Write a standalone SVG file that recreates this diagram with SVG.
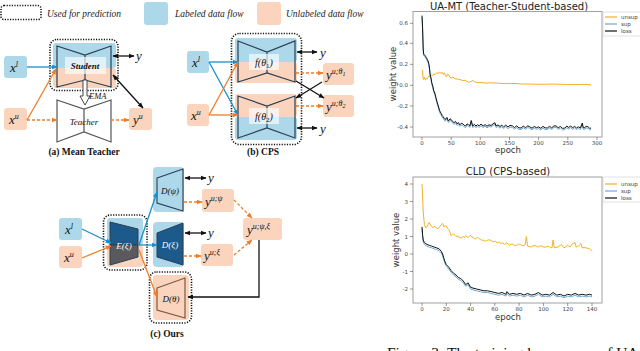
<svg xmlns="http://www.w3.org/2000/svg" width="640" height="351" viewBox="0 0 640 351">
<style>
.bl{fill:#acd8ea}
.or{fill:#fad4bc}
.dot{fill:none;stroke:#111;stroke-width:1.6;stroke-dasharray:1.2 1.4}
.m{font-family:"Liberation Serif",serif;font-style:italic;fill:#111}
.leg{font-family:"Liberation Serif",serif;font-style:italic;font-size:9.5px;fill:#222}
.cap{font-family:"Liberation Serif",serif;font-weight:bold;font-size:9.5px;fill:#111;text-anchor:middle}
.bow{fill:none;stroke:#2c3e50;stroke-width:1.2}
.lab{fill:#fff;opacity:0.65}
.kb{stroke:#111;stroke-width:1.3;fill:none}
.ab{stroke:#1b8fc8;stroke-width:1.3;fill:none}
.ao{stroke:#f07c28;stroke-width:1.3;fill:none}
.ad{stroke:#f07c28;stroke-width:1.3;fill:none;stroke-dasharray:3 2}
.ax{fill:none;stroke:#a0a0a0;stroke-width:1}
.tk{font-family:"DejaVu Sans",sans-serif;font-size:5.5px;fill:#444}
.tl{font-family:"DejaVu Sans",sans-serif;font-size:8.5px;fill:#333}
.tt{font-family:"DejaVu Sans",sans-serif;font-size:10px;fill:#222;text-anchor:middle}
.tm{stroke:#555;stroke-width:0.6}
</style>
<defs>
<marker id="mk" viewBox="0 0 10 10" refX="9" refY="5" markerWidth="6" markerHeight="6" markerUnits="userSpaceOnUse" orient="auto-start-reverse"><path d="M0,1 L10,5 L0,9 z" fill="#111"/></marker>
<marker id="mb" viewBox="0 0 10 10" refX="9" refY="5" markerWidth="6" markerHeight="6" markerUnits="userSpaceOnUse" orient="auto"><path d="M0,1 L10,5 L0,9 z" fill="#1b8fc8"/></marker>
<marker id="mo" viewBox="0 0 10 10" refX="9" refY="5" markerWidth="6" markerHeight="6" markerUnits="userSpaceOnUse" orient="auto"><path d="M0,1 L10,5 L0,9 z" fill="#f07c28"/></marker>
<polyline id="loss1" points="422,15.6 422.6,28.1 423.2,48.9 423.7,54.1 424.6,55 425.5,56.2 426.3,57.5 427.2,59.3 428.1,61 429,64.5 429.6,69 430.2,74.9 431,78 431.9,83.2 432.8,86 433.7,90.5 434.8,93 436,97.8 436.8,101 437.7,104 438.6,107 439.5,110.3 440.3,112 441.2,113.4 442.1,115.5 443,116.5 444.1,118.3 445.3,119.6 446.2,118 447.1,117.5 448,120.5 448.8,120.7 450,118.8 451.2,119.6 452.6,121.5 454.1,122.7 455.5,121.4 457,123.8 458.4,122.6 459.9,124.8 461.3,123.2 462.8,123.8 464.2,125.3 465.7,125.9 467.1,123.9 468.6,124.8 470,125.6 471.2,120.5 472.7,125.9 474.5,124.3 475.9,126.1 477.4,124.8 479.2,125.7 481,124.2 483.2,125.9 485.1,124.6 487,126.3 489,124.8 491,125.5 493,123.9 494.9,122.7 496,125.9 498,124.9 500,126.5 501.8,125.2 503.6,126.9 505.7,125.1 508,127 510,125.4 512.4,125.9 514.5,127.5 516.7,126 518.9,127.8 521.1,128 523.3,126.2 525.6,127.6 527.8,125.8 529.9,126.9 532,128.2 534.3,126.5 536.4,127.7 538.6,126.9 540.8,128.3 543,126.4 545.1,127.9 547.3,128 549.5,126.3 551.7,127.9 553.9,125.9 556.1,125.9 558.2,127.8 560.4,126.4 562.6,128.4 564.8,128 566.9,126.1 568.7,127.5 570.7,125.9 572.6,127.9 574.5,126.3 576.5,128 578.4,126.8 580.4,127.9 582.3,123 583.2,127.5 584.1,128 586.2,126.3 588.2,126.9 589.7,128.3 591.1,128"/>
<polyline id="loss2" points="422,226.9 422.6,234.8 423.2,240 424.4,242.6 426.9,244.4 429.3,245.3 431.7,246.1 434.1,247 436.6,247.9 439,248.8 441.4,251.4 442.6,254 443.9,258.4 445.1,261.9 446.3,264.5 448.7,267.1 451.1,270.6 453.6,273.3 456,275 458.4,277.6 460.8,278.5 463.3,281.1 465.7,284.6 468.1,282.9 470.6,287.3 473,288.1 476.6,289 480.3,289.9 483.9,290.8 487.6,290.8 491.2,291.6 494.8,292.5 498.5,293.4 502.1,292.5 505.8,294.3 507,291.6 509.4,294.3 513.1,293.4 516.7,294.3 520.3,293.4 524,295.1 527.6,293.4 531.3,295.1 534.9,294.3 538.5,292.5 542.2,295.1 545.8,294.3 549.5,295.1 553.1,292.5 556.8,295.1 560.4,294.3 564,296 567.7,294.3 571.3,295.1 575,293.4 578.6,295.1 582.2,294.3 585.9,295.1 589.5,294.3 592,295.1"/>
</defs>
<rect width="640" height="351" fill="#fff"/>

<g id="legend">
<rect class="dot" x="1" y="5.5" width="40" height="14" rx="3"/>
<text class="leg" x="47" y="17">Used for prediction</text>
<rect class="bl" x="144" y="2" width="24" height="23" rx="3"/>
<text class="leg" x="175" y="17">Labeled data flow</text>
<rect class="or" x="257" y="2" width="24" height="23" rx="3"/>
<text class="leg" x="286" y="17">Unlabeled data flow</text>
</g>

<!-- (a) Mean Teacher -->
<g id="a-xl"><rect class="bl" x="4" y="56" width="23" height="22" rx="3"/><text class="m" x="10" y="72" font-size="13">x<tspan dy="-5" font-size="8">l</tspan></text></g>
<g id="a-xu"><rect class="or" x="4" y="108" width="23" height="22" rx="3"/><text class="m" x="9" y="124" font-size="13">x<tspan dy="-5" font-size="8">u</tspan></text></g>
<g id="a-student">
<rect class="bl" x="53" y="43" width="63" height="25" rx="3"/>
<rect class="or" x="53" y="68" width="63" height="20" rx="3"/>
<path class="bow" d="M57,46 L85,55 L111,46 L111,87 L85,80 L57,87 Z M85,55 L85,80"/>
<rect class="lab" x="65" y="57" width="41" height="17"/>
<text class="m" x="85" y="69" font-size="9" font-weight="bold" text-anchor="middle">Student</text>
<rect class="dot" x="50" y="39.5" width="68" height="51" rx="7"/>
</g>
<g id="a-teacher">
<path d="M57,100 L84,109 L111,100 L111,142 L84,132 L57,142 Z M84,109 L84,132" fill="#fff" stroke="#555" stroke-width="1.2"/>
<text class="m" x="84" y="125" font-size="9" text-anchor="middle">Teacher</text>
</g>
<g id="a-y"><text class="m" x="136" y="60" font-size="13">y</text></g>
<g id="a-yu"><rect class="or" x="129" y="108" width="23" height="22" rx="3"/><text class="m" x="133" y="124" font-size="13">y<tspan dy="-5" font-size="8">u</tspan></text></g>
<text class="cap" x="84" y="155">(a) Mean Teacher</text>

<!-- (b) CPS -->
<g id="b-xl"><rect class="bl" x="187" y="51" width="22" height="22" rx="3"/><text class="m" x="192" y="67" font-size="13">x<tspan dy="-5" font-size="8">l</tspan></text></g>
<g id="b-xu"><rect class="or" x="187" y="104" width="22" height="22" rx="3"/><text class="m" x="191" y="120" font-size="13">x<tspan dy="-5" font-size="8">u</tspan></text></g>
<g id="b-f1">
<rect class="bl" x="235" y="38" width="62" height="24" rx="3"/>
<rect class="or" x="235" y="62" width="62" height="21" rx="3"/>
<path class="bow" d="M238,41 L267,52 L295,41 L295,82 L267,73 L238,82 Z M267,52 L267,73"/>
<rect class="lab" x="249" y="54" width="30" height="16"/>
<text class="m" x="264" y="66" font-size="10" text-anchor="middle">f(θ<tspan font-style="normal" font-size="7" dy="2">1</tspan><tspan dy="-2">)</tspan></text>
</g>
<g id="b-f2">
<rect class="or" x="235" y="94" width="62" height="23" rx="3"/>
<rect class="bl" x="235" y="117" width="62" height="23" rx="3"/>
<path class="bow" d="M238,96 L267,106 L295,96 L295,138 L267,128 L238,138 Z M267,106 L267,128"/>
<rect class="lab" x="249" y="108" width="30" height="16"/>
<text class="m" x="264" y="120" font-size="10" text-anchor="middle">f(θ<tspan font-style="normal" font-size="7" dy="2">2</tspan><tspan dy="-2">)</tspan></text>
</g>
<rect id="b-pred" class="dot" x="231.5" y="33.5" width="70" height="111" rx="8"/>
<g id="b-y1"><text class="m" x="320" y="57" font-size="13">y</text></g>
<g id="b-y2"><text class="m" x="320" y="133" font-size="13">y</text></g>
<g id="b-yu1"><rect class="or" x="323" y="63" width="31" height="22" rx="3"/><text class="m" x="326" y="79" font-size="13">y<tspan dy="-5" font-size="8">u;θ</tspan><tspan dy="2" font-size="6">1</tspan></text></g>
<g id="b-yu2"><rect class="or" x="323" y="95" width="31" height="22" rx="3"/><text class="m" x="326" y="111" font-size="13">y<tspan dy="-5" font-size="8">u;θ</tspan><tspan dy="2" font-size="6">2</tspan></text></g>
<text class="cap" x="263" y="155">(b) CPS</text>

<!-- (c) Ours -->
<g id="c-xl"><rect class="bl" x="59" y="218" width="23" height="22" rx="3"/><text class="m" x="65" y="234" font-size="13">x<tspan dy="-5" font-size="8">l</tspan></text></g>
<g id="c-xu"><rect class="or" x="59" y="246" width="23" height="22" rx="3"/><text class="m" x="64" y="262" font-size="13">x<tspan dy="-5" font-size="8">u</tspan></text></g>
<g id="c-E">
<rect class="bl" x="107" y="218" width="36" height="27" rx="3"/>
<rect class="or" x="107" y="245" width="36" height="22" rx="3"/>
<path d="M110,222 L138,229 L138,245 L110,245 Z" fill="#1b5a8a" stroke="#2c3e50" stroke-width="1"/>
<path d="M110,245 L138,245 L138,257 L110,265 Z" fill="#5a5a5e" stroke="#2c3e50" stroke-width="1"/>
<text class="m" x="124" y="249" font-size="9" style="fill:#fff" text-anchor="middle">E(ξ)</text>
<rect class="dot" x="103.5" y="215" width="43.5" height="55" rx="7"/>
</g>
<g id="c-Dpsi">
<rect class="bl" x="153" y="167" width="31" height="45" rx="4"/>
<path d="M157,178 L183,169 L183,211 L157,203 Z" fill="#acd8ea" stroke="#2c3e50" stroke-width="1.1"/>
<text class="m" x="170" y="194" font-size="9" text-anchor="middle">D(ψ)</text>
</g>
<g id="c-Dxi">
<rect class="bl" x="153" y="222" width="31" height="45" rx="4"/>
<path d="M157,233 L183,223 L183,265 L157,257 Z" fill="#1b5a8a" stroke="#2c3e50" stroke-width="1"/>
<text class="m" x="170" y="248" font-size="9" style="fill:#fff" text-anchor="middle">D(ξ)</text>
</g>
<g id="c-Dtheta">
<rect class="or" x="153" y="275" width="36" height="45" rx="4"/>
<path d="M157,288 L185,278 L185,318 L157,310 Z" fill="#fad4bc" stroke="#7a5a45" stroke-width="1.2"/>
<text class="m" x="171" y="302" font-size="9" text-anchor="middle">D(θ)</text>
<rect class="dot" x="149.5" y="272" width="42" height="51" rx="7"/>
</g>
<g id="c-y1"><text class="m" x="208" y="182" font-size="13">y</text></g>
<g id="c-y2"><text class="m" x="208" y="237" font-size="13">y</text></g>
<g id="c-yupsi"><rect class="or" x="202" y="189" width="32" height="23" rx="3"/><text class="m" x="205" y="206" font-size="13">y<tspan dy="-5" font-size="8">u;ψ</tspan></text></g>
<g id="c-yuxi"><rect class="or" x="201" y="244" width="32" height="22" rx="3"/><text class="m" x="204" y="260" font-size="13">y<tspan dy="-5" font-size="8">u;ξ</tspan></text></g>
<g id="c-yupx"><rect class="or" x="243" y="218" width="39" height="22" rx="3"/><text class="m" x="247" y="234" font-size="13">y<tspan dy="-5" font-size="8">u;ψ,ξ</tspan></text></g>
<text class="cap" x="167" y="337">(c) Ours</text>

<g id="connectors">
<line class="ab" x1="27" y1="67" x2="57" y2="67" marker-end="url(#mb)"/>
<line class="ao" x1="27" y1="120" x2="56" y2="69" marker-end="url(#mo)"/>
<line class="ad" x1="27" y1="120" x2="57" y2="120" marker-end="url(#mo)"/>
<line class="ad" x1="111" y1="120" x2="129" y2="120" marker-end="url(#mo)"/>
<line class="kb" x1="113" y1="56" x2="134" y2="56" marker-start="url(#mk)" marker-end="url(#mk)"/>
<line class="kb" x1="113" y1="75" x2="143" y2="108" marker-start="url(#mk)" marker-end="url(#mk)"/>
<path d="M83,80 L87,80 L87,96 L90,96 L85,105 L80,96 L83,96 Z" fill="#fff" stroke="#333" stroke-width="0.9"/>
<text class="m" x="89" y="99" font-size="8.5">EMA</text>
<line class="ab" x1="209" y1="62" x2="238" y2="62" marker-end="url(#mb)"/>
<line class="ab" x1="209" y1="62" x2="238" y2="115" marker-end="url(#mb)"/>
<line class="ao" x1="209" y1="115" x2="238" y2="62" marker-end="url(#mo)"/>
<line class="ao" x1="209" y1="115" x2="238" y2="115" marker-end="url(#mo)"/>
<line class="kb" x1="297" y1="52" x2="317" y2="52" marker-start="url(#mk)" marker-end="url(#mk)"/>
<line class="kb" x1="297" y1="128" x2="317" y2="128" marker-start="url(#mk)" marker-end="url(#mk)"/>
<line class="ad" x1="296" y1="73" x2="323" y2="73" marker-end="url(#mo)"/>
<line class="ad" x1="296" y1="106" x2="323" y2="106" marker-end="url(#mo)"/>
<line class="kb" x1="296" y1="81" x2="324" y2="98" marker-end="url(#mk)"/>
<line class="kb" x1="322" y1="82" x2="296" y2="98" marker-end="url(#mk)"/>
<line class="ab" x1="82" y1="229" x2="111" y2="243" marker-end="url(#mb)"/>
<line class="ao" x1="82" y1="258" x2="111" y2="246" marker-end="url(#mo)"/>
<line class="ab" x1="139" y1="245" x2="157" y2="192" marker-end="url(#mb)"/>
<line class="ab" x1="139" y1="245" x2="157" y2="245" marker-end="url(#mb)"/>
<line class="ao" x1="139" y1="250" x2="157" y2="297" marker-end="url(#mo)"/>
<line class="kb" x1="185" y1="178" x2="206" y2="178" marker-start="url(#mk)" marker-end="url(#mk)"/>
<line class="kb" x1="185" y1="233" x2="206" y2="233" marker-start="url(#mk)" marker-end="url(#mk)"/>
<line class="ad" x1="184" y1="202" x2="202" y2="202" marker-end="url(#mo)"/>
<line class="ad" x1="184" y1="256" x2="201" y2="256" marker-end="url(#mo)"/>
<line class="ad" x1="234" y1="200" x2="252" y2="218" marker-end="url(#mo)"/>
<line class="ad" x1="234" y1="255" x2="252" y2="240" marker-end="url(#mo)"/>
<polyline class="kb" points="259,240 259,297 188,297" marker-end="url(#mk)"/>
</g>

<g id="chart1">
<text class="tt" x="509" y="10">UA-MT (Teacher-Student-based)</text>
<rect class="ax" x="413" y="11.5" width="189" height="125.5"/>
<g class="tm">
<line x1="410" y1="23.3" x2="413" y2="23.3"/><line x1="410" y1="43.3" x2="413" y2="43.3"/><line x1="410" y1="64.3" x2="413" y2="64.3"/><line x1="410" y1="85.3" x2="413" y2="85.3"/><line x1="410" y1="106" x2="413" y2="106"/><line x1="410" y1="127" x2="413" y2="127"/>
<line x1="422" y1="137" x2="422" y2="140"/><line x1="451.2" y1="137" x2="451.2" y2="140"/><line x1="480.3" y1="137" x2="480.3" y2="140"/><line x1="509.5" y1="137" x2="509.5" y2="140"/><line x1="538.6" y1="137" x2="538.6" y2="140"/><line x1="567.8" y1="137" x2="567.8" y2="140"/><line x1="597" y1="137" x2="597" y2="140"/>
</g>
<g class="tk" text-anchor="end">
<text x="408" y="25.3">0.6</text><text x="408" y="45.3">0.4</text><text x="408" y="66.3">0.2</text><text x="408" y="87.3">0.0</text><text x="408" y="108">-0.2</text><text x="408" y="129">-0.4</text>
</g>
<g class="tk" text-anchor="middle">
<text x="422" y="145">0</text><text x="451.2" y="145">50</text><text x="480.3" y="145">100</text><text x="509.5" y="145">150</text><text x="538.6" y="145">200</text><text x="567.8" y="145">250</text><text x="597" y="145">300</text>
</g>
<text class="tl" x="508" y="153" text-anchor="middle">epoch</text>
<text class="tl" transform="translate(396,74) rotate(-90)" text-anchor="middle">weight value</text>
<polyline fill="none" stroke="#f5b027" stroke-width="1" points="422,69.7 422.6,71 423,78 423.6,79.5 424.3,77 425,79 425.5,80.1 426.3,78.5 427.2,79.1 428,77 429,75.9 430,76.8 431.3,74.9 432.5,75.5 433.7,73.9 435,74.5 436.6,72.8 438,73.4 439.5,72.3 441,73.2 442.4,72.5 443.3,74.5 444.2,72.8 445.3,75 446.5,77 447.5,74 448.8,74.9 450,77.5 451.2,78 453,77.2 455,78.8 457,79 460,79.5 462.8,80.6 465,80.2 468.6,82.2 471,81.5 473.3,80.4 475,82 477.4,82.7 481,82.4 486.1,83.2 490,82.8 497.8,83.2 503,83.5 509.5,83.7 515,83.4 521,84 527,84 535,84.2 544.4,84.3 552,84.1 561.9,84.3 570,84.6 579.4,84.5 585,84.4 591.1,84.8"/>
<use href="#loss1" fill="none" stroke="#6fa8d0" stroke-width="1" transform="translate(0,1.6)"/>
<use href="#loss1" fill="none" stroke="#111" stroke-width="1"/>
<rect x="603" y="12" width="39" height="24" fill="#fff" stroke="#ccc" stroke-width="0.6"/>
<line x1="605" y1="17" x2="617" y2="17" stroke="#f5b027" stroke-width="1.2"/>
<line x1="605" y1="24" x2="617" y2="24" stroke="#6fa8d0" stroke-width="1.2"/>
<line x1="605" y1="31" x2="617" y2="31" stroke="#111" stroke-width="1.2"/>
<text class="tk" x="621" y="19">unsup</text><text class="tk" x="621" y="26">sup</text><text class="tk" x="621" y="33">loss</text>
</g>

<g id="chart2">
<text class="tt" x="508" y="175">CLD (CPS-based)</text>
<rect class="ax" x="413" y="177" width="189" height="126"/>
<g class="tm">
<line x1="410" y1="184" x2="413" y2="184"/><line x1="410" y1="201.5" x2="413" y2="201.5"/><line x1="410" y1="219" x2="413" y2="219"/><line x1="410" y1="236.5" x2="413" y2="236.5"/><line x1="410" y1="254" x2="413" y2="254"/><line x1="410" y1="271.5" x2="413" y2="271.5"/><line x1="410" y1="289" x2="413" y2="289"/>
<line x1="422" y1="303" x2="422" y2="306"/><line x1="446.3" y1="303" x2="446.3" y2="306"/><line x1="470.6" y1="303" x2="470.6" y2="306"/><line x1="494.8" y1="303" x2="494.8" y2="306"/><line x1="519.1" y1="303" x2="519.1" y2="306"/><line x1="543.4" y1="303" x2="543.4" y2="306"/><line x1="567.7" y1="303" x2="567.7" y2="306"/><line x1="592" y1="303" x2="592" y2="306"/>
</g>
<g class="tk" text-anchor="end">
<text x="408" y="186">4</text><text x="408" y="203.5">3</text><text x="408" y="221">2</text><text x="408" y="238.5">1</text><text x="408" y="256">0</text><text x="408" y="273.5">-1</text><text x="408" y="291">-2</text>
</g>
<g class="tk" text-anchor="middle">
<text x="422" y="311">0</text><text x="446.3" y="311">20</text><text x="470.6" y="311">40</text><text x="494.8" y="311">60</text><text x="519.1" y="311">80</text><text x="543.4" y="311">100</text><text x="567.7" y="311">120</text><text x="592" y="311">140</text>
</g>
<text class="tl" x="508" y="320" text-anchor="middle">epoch</text>
<text class="tl" transform="translate(399,240) rotate(-90)" text-anchor="middle">weight value</text>
<polyline fill="none" stroke="#f5b027" stroke-width="1" points="422,184 422.6,196.3 423.2,212 424.4,224.3 425.6,227.8 426.9,226.9 428.1,224.3 429.3,222.5 430.5,225.1 431.7,226.5 432.9,227.8 434.1,226.3 435.4,226.9 436.6,228.2 437.8,228.6 439,227.5 440.2,226 441.4,224.5 442.6,223.4 443.9,226.9 445.1,225.8 446.3,226 447.5,228.2 448.7,229.5 449.9,232 451.1,235.6 452.4,234.5 453.6,233.9 454.8,235.2 456,236.5 457.2,235.8 458.4,237.4 459.6,236.6 460.8,238.3 462,237.2 463.3,236.5 464.5,237.5 465.7,235.6 466.9,236.8 468.1,237.4 469.3,236.2 470.6,235.6 471.8,236.9 473,237.4 474.2,238.5 475.4,239.1 476.6,237.9 477.8,237.4 479,238.6 480.3,239.1 481.5,240.3 482.7,240 484.5,241 486.3,240.9 488.1,239.9 490,240 491.8,241.2 493.6,241.8 495.4,241.4 497.3,242.6 499.1,242.1 500.9,243.5 502.7,243 504.6,244.4 505.8,243.7 507,242.6 508.2,244.1 509.4,245.3 511.2,244.1 513.1,244.4 514.9,245.6 516.7,245.3 518.5,244.2 520.3,244.4 522.1,245.7 524,245.3 525.2,244.5 526.4,236.5 527.6,246.1 529.4,246.5 531.3,247 533.1,245.9 534.9,245.3 536.7,246.5 538.5,247 540.3,245.8 542.2,246.1 544,247.2 545.8,247 547.6,246.2 549.5,247 550.7,247.6 551.9,247.9 553.1,240 554.3,247.9 556.1,247.4 558,247 559.8,245.6 561.6,244.4 562.8,246.5 564,247.9 565.8,246.7 567.7,245.3 568.9,246.2 570.1,247 571.3,245.5 572.5,243.5 573.8,243.2 575,242.6 576.2,247 577.4,246.6 578.6,246.1 579.8,244.7 581,243.5 582.2,247.9 584,247.5 585.9,247.9 587.7,248.2 589.5,248.8 590.7,249.8 592,251.4"/>
<use href="#loss2" fill="none" stroke="#6fa8d0" stroke-width="1" transform="translate(0,1.8)"/>
<use href="#loss2" fill="none" stroke="#111" stroke-width="1"/>
<rect x="603" y="177" width="39" height="25" fill="#fff" stroke="#ccc" stroke-width="0.6"/>
<line x1="605" y1="184" x2="617" y2="184" stroke="#f5b027" stroke-width="1.2"/>
<line x1="605" y1="191" x2="617" y2="191" stroke="#6fa8d0" stroke-width="1.2"/>
<line x1="605" y1="198" x2="617" y2="198" stroke="#111" stroke-width="1.2"/>
<text class="tk" x="621" y="186">unsup</text><text class="tk" x="621" y="193">sup</text><text class="tk" x="621" y="200">loss</text>
</g>

<text x="387" y="357.5" font-family="Liberation Serif, serif" font-size="15.5" fill="#111">Figure 3: The training loss curves of UA</text>
</svg>
